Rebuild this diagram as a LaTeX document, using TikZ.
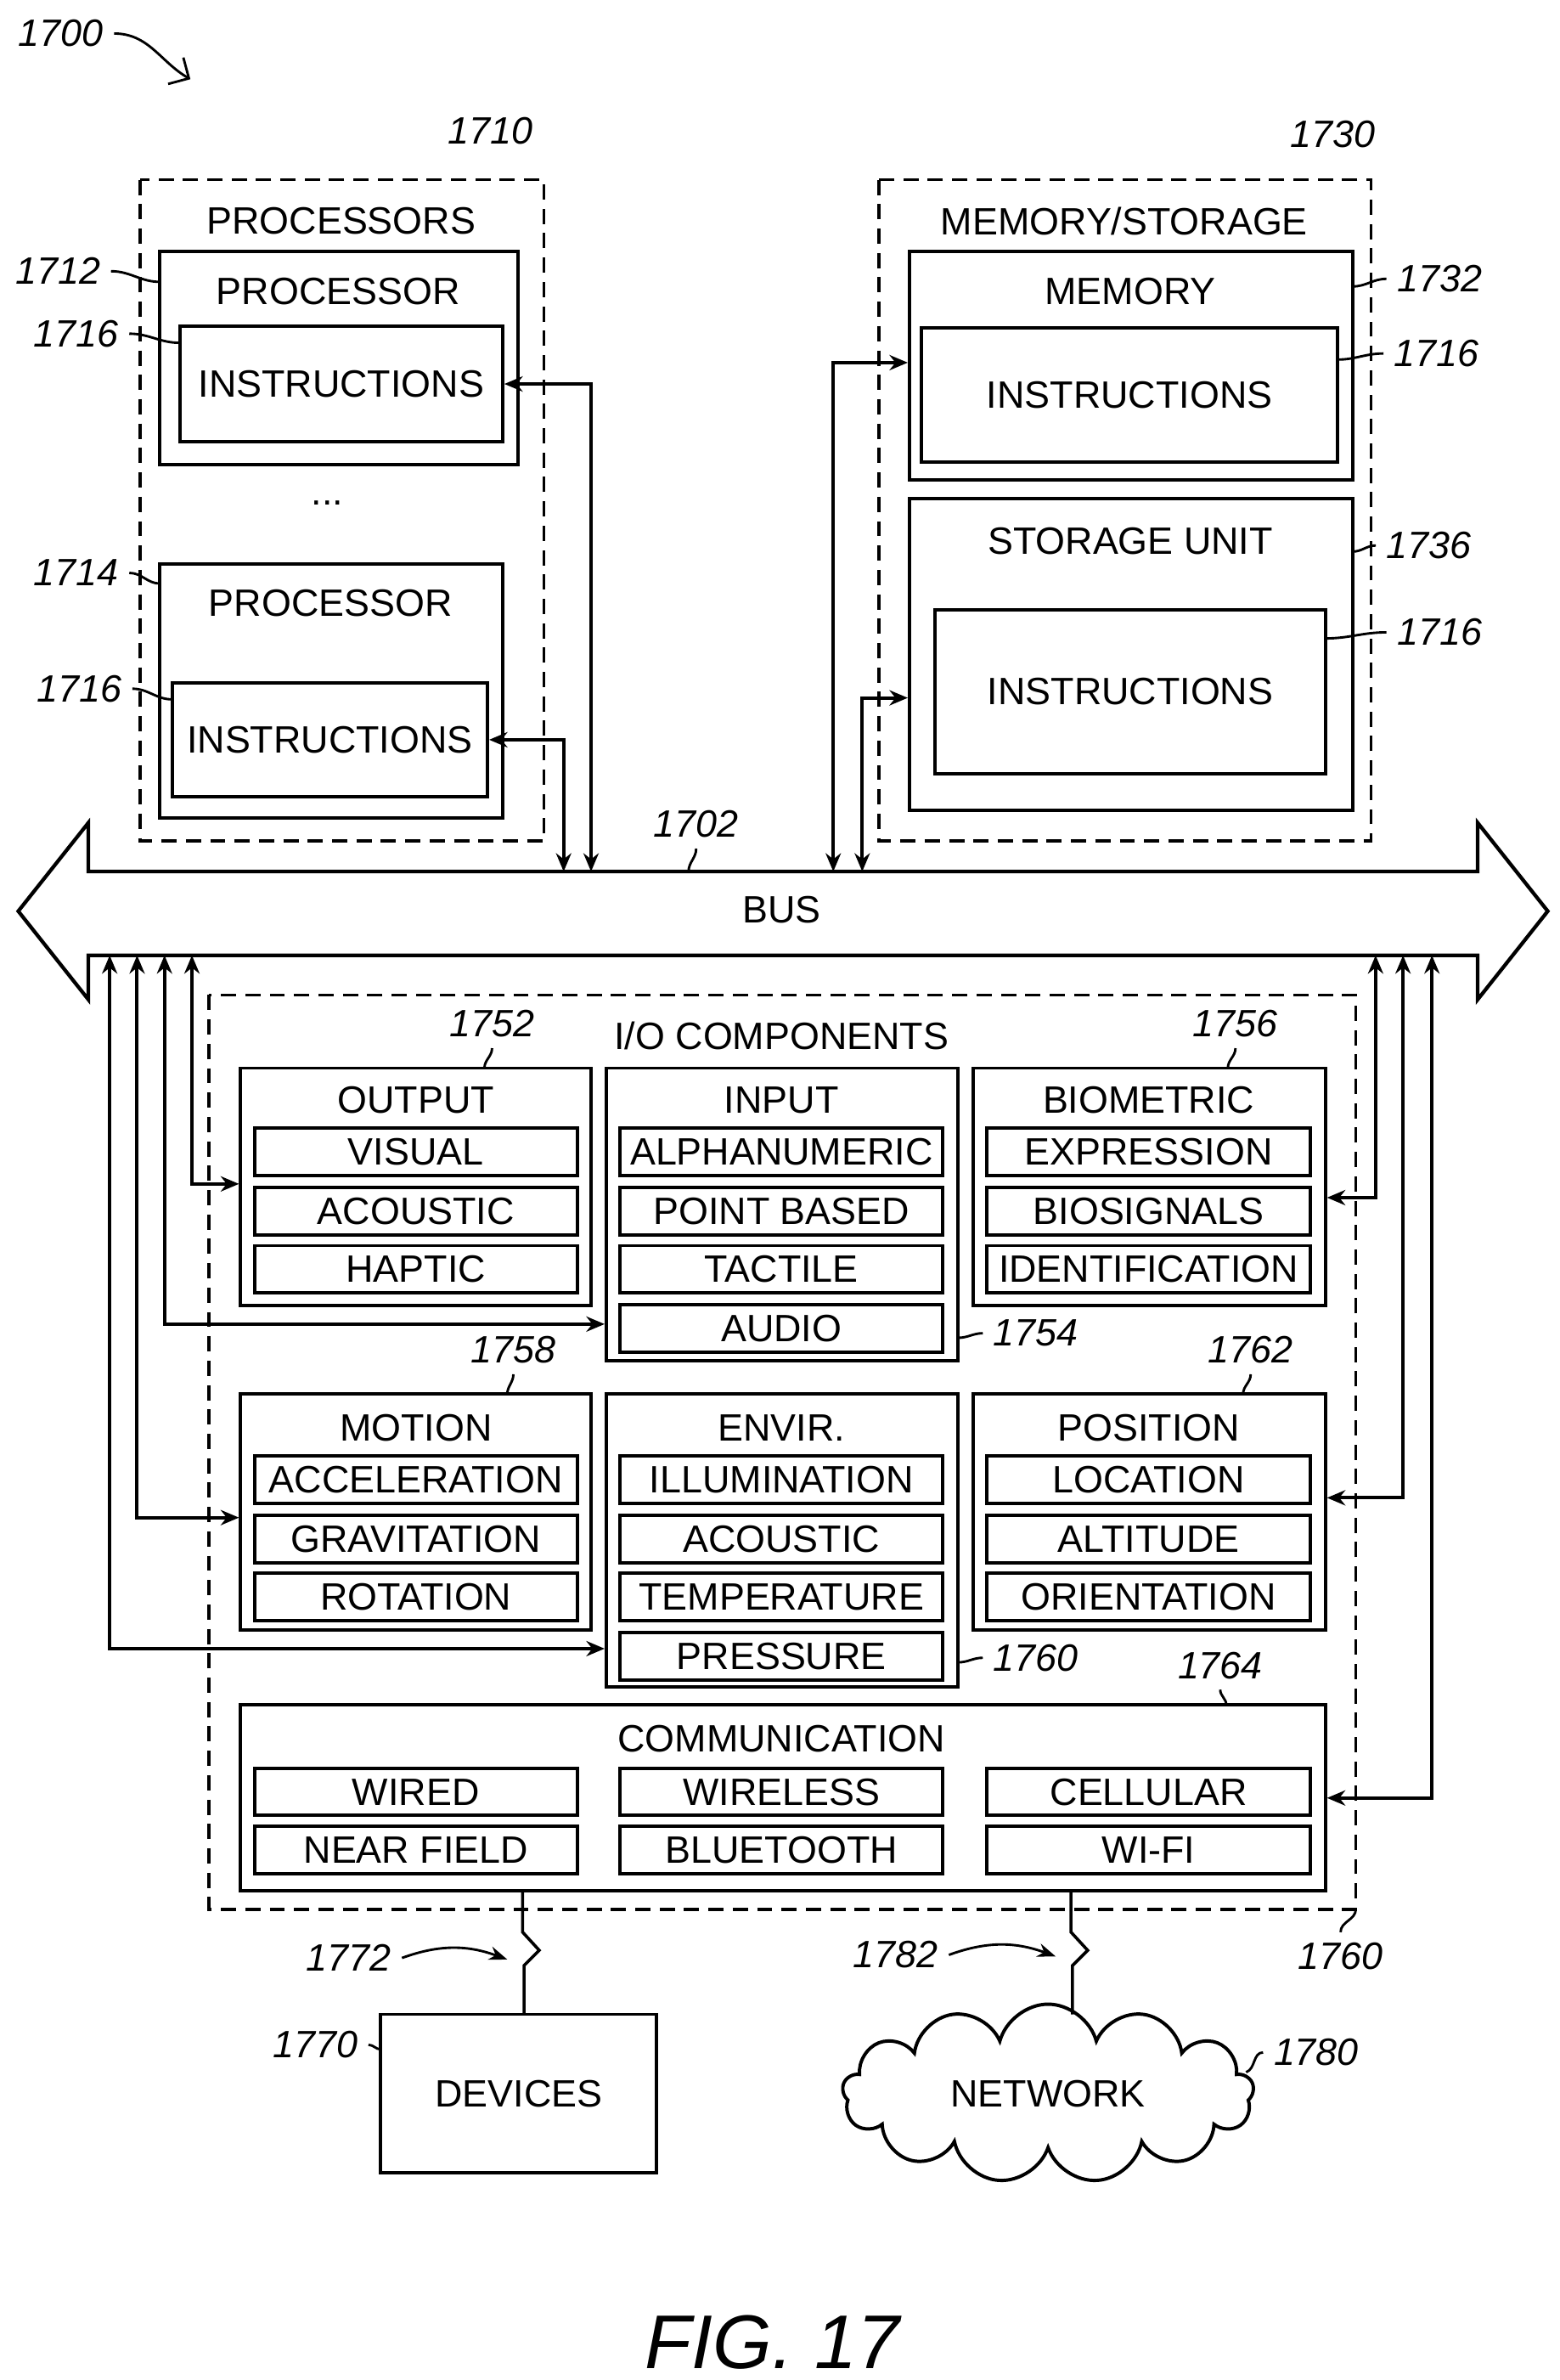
\documentclass[tikz,border=0pt]{standalone}
\usepackage{fontspec}
\setmainfont{Liberation Sans}
\usetikzlibrary{arrows.meta,shapes.symbols}
\tikzset{
  box/.style={draw,line width=1.1pt,inner sep=0pt},
  sub/.style={draw,line width=1.1pt,inner sep=0pt,minimum width=106pt,minimum height=15.5pt,font=\fontsize{12.5}{13}\selectfont},
  dbox/.style={draw,line width=1pt,dash pattern=on 5pt off 3pt},
  ref/.style={font=\fontsize{12.5}{13}\selectfont\itshape},
  txt/.style={font=\fontsize{12.5}{13}\selectfont},
  lead/.style={line width=0.8pt},
  link/.style={line width=1.1pt,{Stealth[length=6pt,width=5pt]}-{Stealth[length=6pt,width=5pt]}},
}
\begin{document}
\begin{tikzpicture}[x=0.5pt,y=-0.5pt]
\useasboundingbox (0,0) rectangle (1024,1562);
% figure reference
\node[ref] (r1700) at (40,22) {1700};
\draw[lead,-{Straight Barb[length=5pt]}] (r1700.east) to[out=0,in=150] (125,52);
% processors
\draw[dbox] (92,118) rectangle (357,552);
\node[txt] (procs) at (224,145) {PROCESSORS};
\node[ref] (r1710) at (322,86) {1710};
\draw[box] (105,165) rectangle (340,305);
\node[txt] (proc1) at (222,191) {PROCESSOR};
\node[box,minimum width=106pt,minimum height=38pt,txt] (ins1) at (224,252) {INSTRUCTIONS};
\node[txt] (dots) at (215,330) {...};
\draw[box] (105,370) rectangle (330,537);
\node[txt] (proc2) at (217,396) {PROCESSOR};
\node[box,minimum width=103.5pt,minimum height=37.5pt,txt] (ins2) at (216.5,485.5) {INSTRUCTIONS};
\node[ref] (r1712) at (38,178) {1712};
\draw[lead] (r1712.east) to[out=0,in=180] (105,185);
\node[ref] (r1716a) at (50,219) {1716};
\draw[lead] (r1716a.east) to[out=0,in=180] (118,225);
\node[ref] (r1714) at (50,376) {1714};
\draw[lead] (r1714.east) to[out=0,in=180] (105,383);
\node[ref] (r1716b) at (52,452) {1716};
\draw[lead] (r1716b.east) to[out=0,in=180] (113,459);
% memory / storage
\draw[dbox] (577,118) rectangle (900,552);
\node[txt] (memst) at (738,145) {MEMORY/STORAGE};
\node[ref] (r1730) at (875,88) {1730};
\node[box,minimum width=145.5pt,minimum height=75pt] (mem) at (742.5,240) {};
\node[txt] (memt) at (742,191) {MEMORY};
\node[box,minimum width=136.5pt,minimum height=44pt,txt] (ins3) at (741.5,259) {INSTRUCTIONS};
\node[box,minimum width=145.5pt,minimum height=102.5pt] (stor) at (742.5,429.5) {};
\node[txt] (stort) at (742,355) {STORAGE UNIT};
\node[box,minimum width=128pt,minimum height=54pt,txt] (ins4) at (742,454) {INSTRUCTIONS};
\node[ref] (r1732) at (945,183) {1732};
\draw[lead] (r1732.west) to[out=180,in=0] (888,188);
\node[ref] (r1716c) at (943,232) {1716};
\draw[lead] (r1716c.west) to[out=180,in=0] (878,236);
\node[ref] (r1736) at (938,358) {1736};
\draw[lead] (r1736.west) to[out=180,in=0] (888,362);
\node[ref] (r1716d) at (945,415) {1716};
\draw[lead] (r1716d.west) to[out=180,in=0] (870,419);
% bus
\draw[line width=1.2pt] (12,598) -- (58,540) -- (58,572) -- (970,572) -- (970,540) -- (1016,598)
  -- (970,656) -- (970,627) -- (58,627) -- (58,656) -- cycle;
\node[txt] (bus) at (513,597) {BUS};
\node[ref] (r1702) at (457,541) {1702};
\draw[lead] (r1702.south) ++(0,0) to[out=-90,in=90] (452,572);
\foreach \n/\x in {b1/370,b2/388,b3/547,b4/566} \coordinate (\n) at (\x,572);
\foreach \n/\x in {c1/72,c2/90,c3/108,c4/126,c5/903,c6/921,c7/940} \coordinate (\n) at (\x,627);
\draw[link] (ins1.east) -| (b2);
\draw[link] (ins2.east) -| (b1);
\draw[link] (mem.west|-0,238) -| (b3);
\draw[link] (stor.west|-0,458) -| (b4);
% I/O components
\draw[dbox] (137,653) rectangle (890,1253);
\node[txt] (iot) at (513,680) {I/O COMPONENTS};
\node[box,minimum width=115pt,minimum height=78pt] (out) at (273,779) {};
\node[box,minimum width=115.5pt,minimum height=96pt] (inp) at (513.5,797) {};
\node[box,minimum width=115.5pt,minimum height=78pt] (bio) at (754.5,779) {};
\node[box,minimum width=115pt,minimum height=77.5pt] (mot) at (273,992.5) {};
\node[box,minimum width=115.5pt,minimum height=96pt] (env) at (513.5,1011) {};
\node[box,minimum width=115.5pt,minimum height=77.5pt] (pos) at (754.5,992.5) {};
\node[box,minimum width=356pt,minimum height=61pt] (com) at (514,1180) {};
\foreach \n/\x/\t in {outt/273/OUTPUT,inpt/513/INPUT,biot/754/BIOMETRIC} \node[txt] (\n) at (\x,722) {\t};
\foreach \n/\x/\t in {mott/273/MOTION,envt/513/ENVIR.,post/754/POSITION} \node[txt] (\n) at (\x,937) {\t};
\node[txt] (comt) at (513,1141) {COMMUNICATION};
\foreach \n/\x/\y/\t in {
  s1/273/756/VISUAL, s2/273/795/ACOUSTIC, s3/273/833/HAPTIC,
  s4/513/756/ALPHANUMERIC, s5/513/795/POINT BASED, s6/513/833/TACTILE, s7/513/872/AUDIO,
  s8/754/756/EXPRESSION, s9/754/795/BIOSIGNALS, s10/754/833/IDENTIFICATION,
  s11/273/971/ACCELERATION, s12/273/1010/GRAVITATION, s13/273/1048/ROTATION,
  s14/513/971/ILLUMINATION, s15/513/1010/ACOUSTIC, s16/513/1048/TEMPERATURE, s17/513/1087/PRESSURE,
  s18/754/971/LOCATION, s19/754/1010/ALTITUDE, s20/754/1048/ORIENTATION,
  s21/273/1176/WIRED, s22/273/1214/NEAR FIELD, s23/513/1176/WIRELESS, s24/513/1214/BLUETOOTH,
  s25/754/1176/CELLULAR, s26/754/1214/WI-FI}
  \node[sub] (\n) at (\x,\y) {\t};
\draw[link] (c4) |- (out.west|-0,777);
\draw[link] (c3) |- (inp.west|-0,869);
\draw[link] (c2) |- (mot.west|-0,996);
\draw[link] (c1) |- (env.west|-0,1082);
\draw[link] (c5) |- (bio.east|-0,786);
\draw[link] (c6) |- (pos.east|-0,983);
\draw[link] (c7) |- (com.east|-0,1180);
\node[ref] (r1752) at (323,672) {1752};
\draw[lead] (r1752.south) to[out=-90,in=90] (318,701);
\node[ref] (r1756) at (811,672) {1756};
\draw[lead] (r1756.south) to[out=-90,in=90] (806,701);
\node[ref] (r1754) at (680,875) {1754};
\draw[lead] (r1754.west) to[out=180,in=0] (629,878);
\node[ref] (r1758) at (337,886) {1758};
\draw[lead] (r1758.south) to[out=-90,in=90] (333,915);
\node[ref] (r1762) at (821,886) {1762};
\draw[lead] (r1762.south) to[out=-90,in=90] (816,915);
\node[ref] (r1760a) at (680,1088) {1760};
\draw[lead] (r1760a.west) to[out=180,in=0] (629,1091);
\node[ref] (r1764) at (801,1093) {1764};
\draw[lead] (r1764.south) to[out=-90,in=90] (805,1119);
\node[ref] (r1760b) at (880,1284) {1760};
\draw[lead] (r1760b.north) to[out=90,in=-90] (890,1253);
% devices and network
\node[box,minimum width=90.5pt,minimum height=52pt,txt] (dev) at (340.5,1374) {DEVICES};
\node[cloud,draw,line width=1.1pt,cloud puffs=13,aspect=2.4,minimum width=135pt,minimum height=56pt,txt] (net) at (688,1374) {NETWORK};
\node[ref] (r1770) at (207,1342) {1770};
\draw[lead] (r1770.east) to[out=0,in=180] (250,1345);
\node[ref] (r1780) at (864,1347) {1780};
\draw[lead] (r1780.west) to[out=180,in=20] (818,1360);
\draw[line width=1pt] (343,1241) -- (343,1268) -- (354,1280) -- (344,1290) -- (344,1322);
\draw[line width=1pt] (703,1241) -- (703,1268) -- (714,1280) -- (704,1290) -- (704,1322);
\node[ref] (r1772) at (229,1285) {1772};
\draw[lead,-{Stealth[length=6pt]}] (r1772.east) to[out=20,in=160] (333,1286);
\node[ref] (r1782) at (588,1283) {1782};
\draw[lead,-{Stealth[length=6pt]}] (r1782.east) to[out=20,in=160] (693,1284);
\node[font=\fontsize{25}{28}\selectfont\itshape] (fig) at (507,1537) {FIG. 17};
\end{tikzpicture}
\end{document}
